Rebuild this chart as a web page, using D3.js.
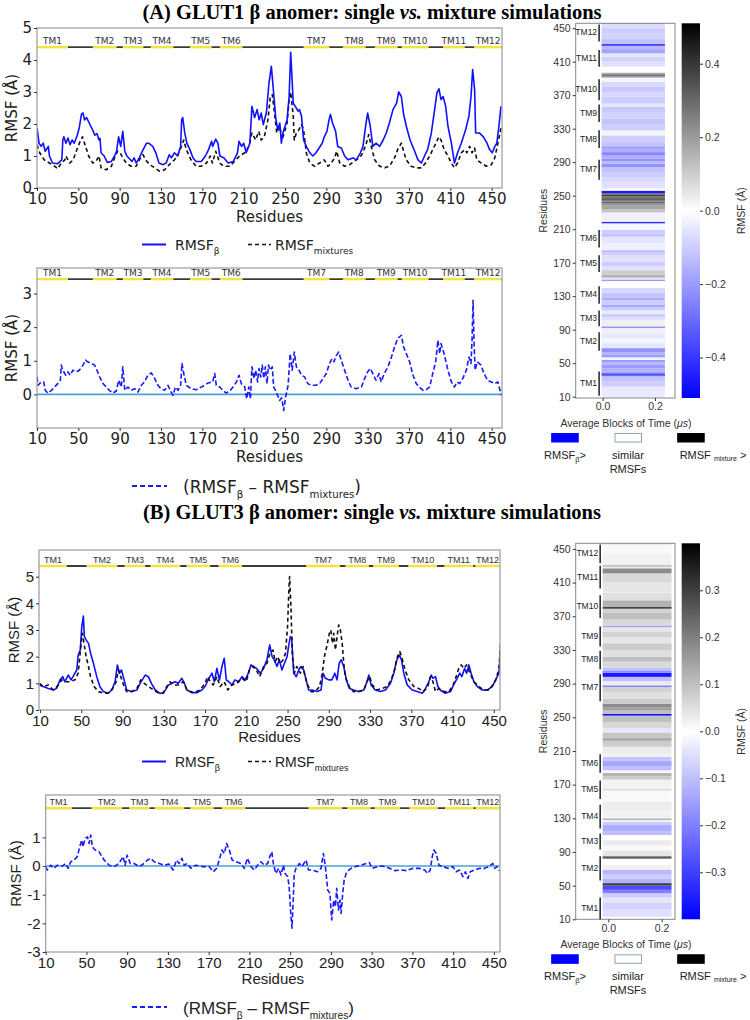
<!DOCTYPE html>
<html>
<head>
<meta charset="utf-8">
<script src="https://cdn.jsdelivr.net/npm/d3@7"></script>
<style>
    body { margin: 0; background: #fff; }
    svg { display: block; }
</style>
</head>
<body>
<svg width="750" height="1020"></svg>
<script>
(function () {
    var svg = d3.select('svg');

    // ---- data ----
    var tmNames = ['TM1', 'TM2', 'TM3', 'TM4', 'TM5', 'TM6', 'TM7', 'TM8', 'TM9', 'TM10', 'TM11', 'TM12'];
    var tmGlut1 = [[10, 40], [64, 87], [93, 113], [120, 142], [158, 179], [187, 209], [268, 293], [306, 328], [337, 359], [363, 389], [403, 424], [433, 460]];
    var tmGlut3 = [[9, 36], [55, 85], [92, 112], [117, 146], [152, 175], [183, 206], [268, 301], [306, 329], [333, 358], [367, 395], [402, 430], [432, 456]];

    var residueTicks = [10, 50, 90, 130, 170, 210, 250, 290, 330, 370, 410, 450];
    var blockTicks = [0.0, 0.2];

    var glut1Beta = [[10,1.88],[12,1.4],[14,1.3],[16,1.4],[18,1.15],[21,1.3],[22,1.0],[25,0.78],[30,0.76],[34,0.88],[35,1.5],[36,1.6],[38,1.4],[40,1.56],[42,1.35],[44,1.5],[46,1.4],[49,1.65],[51,1.9],[53,2.3],[54.5,2.35],[56,2.13],[58,2.2],[61,2.0],[64,1.8],[66,1.65],[68,1.7],[70,1.5],[71,1.55],[72,1.1],[75,1.0],[78,0.8],[82,0.83],[85,1.0],[87,1.15],[89,1.6],[91,1.3],[93,1.77],[95,1.15],[97,1.0],[100,0.9],[102,0.83],[104,0.94],[106,0.78],[109,0.94],[112,1.15],[116,1.4],[118,1.4],[122,1.3],[125,1.1],[128,0.78],[132,0.73],[135,0.78],[138,1.04],[140,0.94],[143,1.1],[146,1.0],[149,1.3],[150,2.13],[151,2.2],[153,1.72],[155,1.4],[158,1.2],[161,0.94],[164,0.83],[169,0.83],[173,1.0],[176,1.2],[179,1.46],[180,1.3],[183,1.53],[185,1.4],[187,1.0],[191,0.94],[195,0.78],[200,0.83],[204,1.1],[205.5,1.46],[208,1.3],[210,1.4],[212.5,1.1],[216,1.4],[218,2.55],[220.6,2.2],[223,2.45],[225,2.13],[227,2.34],[229,1.98],[232,2.36],[234.5,3.28],[236.8,3.8],[239,2.97],[241,2.2],[243,1.82],[245,2.03],[246.5,1.4],[248,1.72],[250,1.93],[252,2.13],[254,2.86],[255.5,4.24],[258,2.65],[260,2.55],[262.6,2.4],[264,2.45],[266,2.24],[268,1.5],[270.6,1.3],[274,1.1],[277,1.0],[280,1.1],[283,1.25],[286,1.4],[288,1.6],[290.6,1.77],[292.6,2.13],[294,2.3],[296,2.03],[299,1.77],[301,1.3],[304.5,1.25],[307.7,1.0],[311,0.88],[315.8,0.94],[319,0.88],[323,1.1],[325.5,1.3],[328,1.93],[330,2.34],[332.5,1.93],[335,1.3],[338,1.4],[341.6,1.3],[345,1.5],[348,1.72],[351,2.03],[354.5,2.45],[358,2.65],[360,3.0],[362.6,2.86],[364.6,2.34],[367.4,1.93],[371,1.5],[375.5,1.15],[378.7,0.88],[382,0.78],[385,1.0],[388,1.2],[391.6,1.72],[394.8,2.45],[397,2.97],[399,3.1],[401,2.76],[403,2.86],[405.5,2.55],[407.7,1.93],[411,1.4],[414,0.78],[417,1.1],[420.6,1.4],[424.8,1.82],[428,2.24],[430,2.86],[431.6,3.7],[433.5,3.07],[434.5,1.72],[438,1.72],[442,1.6],[445.5,1.4],[448,1.2],[450.6,1.1],[453,1.3],[455,1.4],[457,1.93],[459,2.55]];

    var glut1Mix = [[10,1.35],[12.6,1.1],[17,0.88],[22,0.78],[27,0.68],[30,0.6],[33.5,0.78],[37,0.88],[38,1.0],[41.6,0.78],[45,0.88],[48,1.15],[51,1.4],[54,1.6],[57,1.3],[60,1.0],[64,0.78],[67,0.83],[70,1.0],[72,0.63],[77,0.57],[82,0.68],[85,0.94],[88,1.15],[90.6,1.1],[93,0.94],[96.5,0.78],[101,0.68],[106,0.68],[109,0.88],[112.6,1.04],[115,0.88],[119,0.73],[124,0.63],[128.7,0.52],[133.5,0.57],[138,0.73],[143,0.88],[146,1.0],[149.7,1.3],[152,1.5],[154.5,1.2],[159,0.88],[164,0.68],[169,0.68],[174,0.78],[177.7,1.0],[179.7,0.78],[183,1.15],[186.8,0.78],[190.6,0.68],[196.5,0.68],[201,0.83],[206,1.0],[211,1.1],[215,1.3],[218,1.72],[221.6,1.5],[224.6,1.77],[227,1.5],[230,1.6],[233.5,2.13],[235.8,2.86],[237.7,2.92],[240,2.3],[242,1.72],[245,1.93],[247,1.5],[249.7,1.77],[252,2.03],[254,2.76],[255.5,3.0],[258,2.24],[259,1.5],[261,1.72],[263.5,1.82],[266,1.98],[268,1.82],[270.6,1.1],[274,0.78],[278.7,0.68],[283.5,0.78],[288,0.88],[291.6,0.68],[294.8,0.78],[298,0.94],[300,1.15],[303,0.78],[307.7,0.68],[312.6,0.73],[317,0.83],[322,0.94],[325.5,1.1],[328.7,1.4],[331,1.67],[333.5,1.3],[336.8,0.88],[341.6,0.68],[346.5,0.63],[351,0.68],[356,0.94],[359,1.2],[362.6,1.4],[364.8,1.15],[367.4,0.88],[372,0.68],[377,0.63],[382,0.63],[386,0.78],[390,1.0],[393,1.2],[396,1.4],[399,1.6],[401,1.5],[404,1.2],[407.7,1.0],[411,0.78],[414,0.63],[417,0.78],[420.6,1.1],[424,1.2],[426,1.1],[428.7,1.3],[431,1.1],[433.5,1.25],[435.6,0.88],[440,0.78],[444.8,0.68],[449.7,0.73],[453,0.94],[456,1.4],[459.4,1.93]];

    var glut1Diff = [[10,0.52],[11,0.27],[14,0.37],[16.5,0.37],[18,0.12],[20.6,0.04],[24,0.12],[27,0.22],[30,0.32],[32.6,0.42],[33.5,0.87],[35,0.72],[37.7,0.57],[40,0.67],[42,0.57],[44.8,0.72],[48,0.67],[51,0.72],[54.5,0.87],[57,1.02],[59,0.97],[62.6,0.92],[65.8,0.87],[68,0.72],[70.6,0.52],[74,0.32],[77,0.22],[80,0.12],[83.5,0.04],[86.8,0.1],[89,0.42],[91.6,0.22],[93,0.82],[95,0.12],[98,0.22],[101,0.12],[104.5,0.17],[107.7,0.07],[111,0.27],[114,0.37],[117.4,0.57],[120.6,0.64],[124,0.47],[127,0.27],[130,0.17],[133.5,0.12],[136.8,0.27],[139,0.12],[141.6,-0.03],[144,0.22],[146.5,0.12],[149,0.27],[150.3,0.92],[152,0.62],[154.5,0.27],[159,0.17],[164,0.14],[170.6,0.24],[175.5,0.34],[180,0.37],[182,0.62],[183.5,0.27],[186.8,0.22],[190,0.12],[193,0.04],[196.5,0.1],[199.7,0.22],[203,0.37],[205.5,0.57],[207.7,0.32],[211,0.22],[213,-0.13],[215,0.22],[216.5,-0.13],[218,0.82],[220,0.47],[221.6,0.72],[223.5,0.37],[224.8,0.77],[226.5,0.52],[228,0.87],[229.4,0.47],[231,0.82],[232.6,0.32],[234,0.87],[235.8,0.72],[237.7,0.82],[239,0.22],[241.6,0.07],[244.8,-0.18],[246.8,-0.1],[248.7,-0.48],[250.6,-0.08],[253,0.27],[255,1.21],[257,0.72],[259,1.26],[261,0.82],[263.5,0.72],[266,0.57],[269,0.52],[272,0.32],[275.5,0.27],[280,0.27],[283.5,0.32],[286.8,0.47],[290,0.62],[293,0.92],[295.5,1.06],[297.4,0.97],[299.7,1.16],[302,1.26],[304.5,1.01],[307.7,0.72],[311,0.42],[314,0.22],[319,0.17],[324,0.22],[327,0.47],[330,0.67],[332.6,0.77],[335,0.62],[338,0.42],[341,0.62],[343,0.37],[346,0.62],[349.7,0.82],[353,1.11],[356,1.41],[359,1.66],[362.6,1.76],[364.8,1.41],[367.4,1.21],[370.6,0.97],[373.9,0.57],[377,0.32],[380,0.22],[383.5,0.12],[386.8,0.14],[390,0.22],[393,0.62],[395.8,0.97],[398,1.61],[399.7,1.21],[401,1.51],[403.5,1.26],[405.5,1.01],[407.7,0.72],[411,0.37],[414,0.22],[416.5,0.37],[419,0.32],[422,0.47],[425.5,0.72],[428,1.11],[430,0.92],[431,1.6],[432,2.8],[433,1.5],[434,0.72],[436,0.97],[439.7,0.87],[442.6,0.62],[446,0.42],[449.7,0.37],[452.6,0.32],[456,0.37],[459.4,-0.03]];

    var glut3Beta = [[9.4,0.94],[13,0.88],[18,0.81],[23,0.75],[26,0.81],[29.4,1.13],[32,1.25],[34,1.06],[37.5,1.31],[40,1.13],[42,1.25],[45.6,1.5],[47,2.06],[49,2.25],[50.5,3.13],[52,3.52],[53,2.75],[54.7,2.63],[57,2.5],[59,2.13],[61.8,1.75],[65,1.25],[68,0.88],[71.5,0.69],[76,0.63],[79.6,0.75],[82.8,1.06],[85,1.69],[87,1.38],[89,1.5],[91.5,1.13],[94,0.75],[99,0.69],[104,0.75],[107,1.0],[112,1.31],[115,1.25],[118,1.0],[121.7,0.75],[126,0.63],[129.7,0.63],[134.6,0.94],[138,1.0],[141,1.06],[144,1.0],[147.5,1.19],[150,1.0],[152.4,0.75],[157,0.65],[162,0.65],[167,0.75],[170,0.88],[173,1.13],[176.7,1.38],[179,1.06],[181.5,1.56],[184,1.13],[186.4,1.63],[188.6,1.94],[190.6,1.13],[193,1.06],[196,0.94],[199,1.13],[202.6,1.06],[205.8,1.25],[209,1.13],[212,1.38],[214.5,1.69],[217,1.63],[220,1.56],[223.6,1.38],[226.8,1.56],[230,1.88],[232.7,2.44],[235,2.0],[237,1.88],[239.8,1.63],[242,1.88],[244.6,1.5],[247,1.75],[249.5,2.0],[251,2.38],[252.7,2.75],[254,2.69],[256,1.38],[258.5,1.25],[260.8,1.5],[263,1.63],[265.7,1.5],[268,1.13],[270.5,0.75],[273.7,0.75],[278.6,0.69],[282.5,0.75],[284.4,1.38],[286.7,1.19],[290,1.13],[293,1.13],[295.8,1.38],[298,1.13],[300,1.75],[302,1.88],[304.5,1.63],[307,1.13],[310,0.81],[314,0.75],[319,0.69],[324,0.75],[327,1.06],[328.8,1.31],[331,0.94],[335,0.75],[340,0.69],[345,0.75],[349.8,1.0],[353,1.38],[356,1.88],[358.5,2.06],[360.5,1.88],[362.7,1.38],[366,0.94],[370.8,0.75],[375.7,0.69],[380.6,0.63],[383.8,0.81],[387,1.06],[389.3,1.31],[391,1.19],[393.5,1.25],[395.7,0.88],[398,0.75],[403,0.63],[408,0.69],[411,0.94],[414.5,1.19],[417,1.38],[419,1.25],[421.6,1.56],[423.6,1.38],[425.8,1.69],[428,1.38],[430.7,1.06],[434,0.88],[438.8,0.75],[443.7,0.75],[448.5,0.88],[451.7,1.13],[455,1.38],[456.6,2.38]];

    var glut3Mix = [[9.4,1.0],[13,0.88],[18,0.94],[23,0.75],[28,0.94],[31,1.13],[34,1.06],[39,1.06],[44,1.13],[47,1.38],[49.5,2.38],[51,2.88],[52.7,2.5],[54.7,2.0],[57,1.63],[59,1.25],[62.4,0.88],[66.6,0.69],[71.5,0.63],[76,0.63],[80.6,0.81],[83.8,1.06],[86,1.5],[88.3,1.25],[91,0.94],[94,0.69],[99,0.69],[104,0.81],[107.7,1.13],[111,1.0],[115,0.88],[120,0.75],[125,0.63],[129,0.63],[133,0.88],[136,1.06],[139.4,0.94],[144,0.94],[149,1.06],[152.4,0.75],[159,0.65],[165,0.75],[170,1.0],[172.4,1.25],[175,1.06],[178,0.94],[181.5,1.25],[184.7,0.88],[188.6,1.06],[192,0.75],[196,0.94],[201,1.0],[205.8,1.19],[210,1.06],[213,1.5],[216.5,1.63],[219.7,1.5],[223,1.25],[226.8,1.63],[230,1.75],[233,2.13],[235.9,2.25],[238,1.81],[240.4,2.0],[243,1.75],[245.6,1.88],[248,2.13],[250,3.13],[251.4,4.63],[252,5.0],[253.4,3.75],[254.7,2.0],[256.6,1.38],[259,1.63],[262.4,1.38],[265,1.63],[267,1.25],[269.5,0.94],[272.8,0.69],[277,0.69],[281,0.88],[283.4,1.31],[285.7,2.0],[288,2.38],[290.6,2.88],[292,3.0],[293.5,2.5],[294.8,2.88],[296.4,2.25],[298,2.75],[299.6,3.19],[301,3.06],[303,2.5],[304.5,1.75],[306,1.25],[309.7,0.88],[314,0.69],[319,0.69],[324,0.75],[327,1.06],[329.7,1.25],[332,0.94],[337,0.75],[341.7,0.81],[346.6,0.88],[350.5,1.13],[353.7,1.5],[356,1.94],[358.8,2.19],[361,1.94],[364,1.5],[367.6,1.13],[372.5,0.88],[377,0.81],[382,0.69],[386,0.88],[388.6,1.25],[391,1.06],[393.5,0.69],[396.7,0.81],[401.6,0.69],[406.5,0.69],[410.6,0.94],[414,1.31],[416,1.56],[418.4,1.69],[421,1.56],[423.6,1.69],[426.8,1.38],[430.7,1.06],[435.6,0.88],[440,0.75],[445,0.75],[449,0.94],[452,1.13],[455,1.56],[456.6,2.5]];

    var glut3Diff = [[10,-0.02],[11.6,-0.14],[15,0.03],[18,-0.08],[21.5,0.03],[26.4,0],[29.7,0.09],[32,-0.08],[34.6,0.15],[37.8,0.21],[41,0.33],[43.4,0.67],[45.4,0.91],[46.7,0.67],[48.7,0.97],[51,1.02],[52.6,0.79],[54.2,1.08],[55.9,0.67],[58.5,0.56],[62.4,0.5],[67.3,0.21],[72.3,0.03],[77,-0.02],[82,0.09],[86,0.33],[88,0.03],[90,0.38],[93,0.09],[96.8,0.09],[101.7,-0.02],[106.7,0.09],[110,0.21],[113,0.27],[116.5,0.15],[121.4,0.09],[126.3,0.03],[131,0.07],[135,-0.14],[138.4,0.21],[141,0.09],[143.7,0.27],[146,0.03],[149,0.09],[152.5,-0.08],[157.4,0.03],[164,-0.02],[170.5,-0.02],[174.5,-0.2],[177.8,-0.08],[180.4,0.21],[183,0.56],[185.4,0.44],[187.6,0.79],[190.3,0.56],[193,0.21],[196.8,0.15],[201.7,0.09],[205,-0.08],[208,0.27],[211.5,-0.02],[214.8,-0.14],[218,0.03],[221.3,0.15],[224.6,0.03],[227.9,0.09],[230,0.33],[232,0.5],[233.5,0.09],[236,-0.26],[238.7,-0.08],[241,-0.31],[243.3,0.03],[245,-0.26],[247.6,-0.37],[249,-0.72],[250.8,-1.77],[251.8,-2.17],[253,-1.19],[254,-0.26],[255.7,-0.08],[259,0.09],[261.6,-0.02],[265.6,0.21],[268,-0.14],[272,-0.14],[277,-0.2],[280.3,-0.08],[282.6,0.44],[284.6,-0.02],[286.9,-0.84],[289,-0.95],[290.8,-1.88],[292.8,-1.19],[294.4,-1.42],[295.7,-0.78],[297.4,-1.53],[299,-1.19],[300,-1.65],[301.6,-0.95],[303,-0.49],[305.5,-0.2],[309.8,-0.08],[314,-0.02],[319.6,0.03],[324.5,0.09],[327.8,0.12],[330.4,-0.08],[336,-0.02],[341,0],[347.5,-0.08],[352.4,-0.16],[359,-0.14],[364,-0.16],[370.6,-0.08],[377,-0.08],[382,-0.14],[385,-0.26],[387.5,-0.14],[389.5,0.33],[391,0.56],[393.4,0.44],[396,0.03],[400,-0.02],[404.8,-0.08],[409.7,-0.02],[413,-0.2],[416.3,-0.14],[419.6,-0.37],[422,-0.2],[424.5,-0.43],[426.8,-0.2],[431,-0.14],[436,-0.08],[441,-0.08],[445,-0.02],[449,0.09],[450.7,-0.08],[453,-0.02],[455,-0.16]];

    // heatmap rows: [first residue, last residue, RMSF difference]
    var heatGlut1 = [[8,22,-0.04],[22,28,-0.1],[28,34,-0.12],[34,35,-0.2],[35,38,-0.36],[38,40,-0.2],[40,44,-0.16],[44,48,-0.2],[48,51,-0.15],[51,54,-0.2],[54,57,-0.02],[57,60,-0.2],[60,63,-0.16],[63,68,-0.22],[68,74,-0.05],[74,80,-0.02],[80,85,-0.05],[85,92,-0.03],[92,94,-0.22],[94,101,0.03],[101,105,-0.06],[105,109,-0.1],[109,113,-0.04],[113,117,-0.1],[117,120,-0.18],[120,125,-0.1],[125,128,-0.16],[128,134,-0.12],[134,140,-0.08],[140,148,0.0],[148,150,-0.2],[150,152,-0.04],[152,156,0.15],[156,161,0.1],[161,166,-0.06],[166,171,-0.1],[171,179,-0.06],[179,182,-0.1],[182,185,-0.13],[185,193,-0.03],[193,201,-0.05],[201,205,-0.12],[205,209,-0.1],[209,217,-0.02],[217,219,-0.42],[219,221,-0.02],[221,230,-0.03],[230,234,0.12],[234,238,0.18],[238,241,0.22],[241,243,0.32],[243,245,0.26],[245,247,0.36],[247,249,0.28],[249,251,0.38],[251,253,0.3],[253,256,-0.46],[256,259,-0.01],[259,266,-0.06],[266,272,-0.08],[272,278,-0.1],[278,284,-0.12],[284,288,-0.22],[288,291,-0.14],[291,294,-0.22],[294,298,-0.16],[298,302,-0.24],[302,306,-0.16],[306,309,-0.2],[309,314,-0.12],[314,322,-0.1],[322,328,0.02],[328,335,-0.1],[335,342,-0.12],[342,349,-0.09],[349,356,-0.11],[356,360,-0.05],[360,368,-0.1],[368,374,-0.08],[374,380,-0.11],[380,386,-0.08],[386,391,-0.02],[391,393,0.2],[393,395,0.3],[395,397,0.18],[397,400,-0.01],[400,404,0.0],[404,410,-0.06],[410,416,-0.09],[416,420,-0.05],[420,425,-0.18],[425,429,-0.14],[429,431,-0.42],[431,437,-0.12],[437,444,-0.09],[444,450,-0.1],[450,455,-0.07],[455,456,0.2]];

    var heatGlut3 = [[10,13,0.0],[13,22,-0.05],[22,30,-0.07],[30,36,-0.04],[36,41,-0.08],[41,45,-0.2],[45,50,-0.28],[50,53,0.3],[53,58,-0.12],[58,63,-0.08],[63,69,-0.11],[69,75,0.02],[75,82,0.0],[82,85,0.25],[85,92,0.04],[92,98,0.01],[98,104,0.03],[104,110,0.0],[110,115,-0.1],[115,122,-0.13],[122,126,-0.08],[126,128,0.02],[128,130,0.12],[130,140,0.02],[140,150,0.03],[150,163,0.01],[163,165,0.06],[165,176,0.02],[176,180,0.08],[180,184,0.12],[184,187,0.01],[187,192,-0.1],[192,198,-0.14],[198,203,-0.09],[203,207,0.02],[207,215,0.03],[215,222,0.08],[222,226,0.13],[226,232,0.09],[232,237,-0.04],[237,244,0.06],[244,252,0.1],[252,254,-0.38],[254,258,0.1],[258,262,0.15],[262,266,0.18],[266,272,0.08],[272,280,0.05],[280,286,0.07],[286,288,-0.2],[288,293,0.03],[293,298,-0.1],[298,303,-0.36],[303,305,-0.18],[305,309,-0.1],[309,316,0.06],[316,322,0.1],[322,330,0.05],[330,338,0.08],[338,345,0.04],[345,352,0.07],[352,357,0.04],[357,359,-0.15],[359,366,0.06],[366,374,0.1],[374,379,0.07],[379,381,0.3],[381,389,0.12],[389,398,0.05],[398,400,-0.04],[400,410,0.04],[410,421,0.06],[421,427,0.18],[427,429,0.04],[429,431,0.1],[431,445,0.02],[445,455,0.01],[455,457,-0.05]];

    var dejavu = '"DejaVu Sans", sans-serif';
    var arial = '"Liberation Sans", Arial, sans-serif';

    // ---- titles ----
    title(372, 19, '(A) GLUT1 β anomer: single ');
    title(372, 519, '(B) GLUT3 β anomer: single ');

    // ---- GLUT1 ----
    linePanel({
        id: 'a1', left: 37, right: 502, top: 28, bottom: 188,
        xDomain: [10, 460], yDomain: [0, 5], yTicks: [0, 1, 2, 3, 4, 5],
        tm: tmGlut1, tmLevel: 4.4, font: dejavu, tickSize: 15, labelSize: 15,
        xLabelY: 222, yLabelX: 12,
        series: [
            { data: glut1Mix, color: '#111', dash: '4,3' },
            { data: glut1Beta, color: '#1010ff' }
        ]
    });
    pairLegend(244.5, 250, dejavu, 14);

    linePanel({
        id: 'a2', left: 37, right: 502, top: 268, bottom: 428,
        xDomain: [10, 460], yDomain: [-1, 3.76], yTicks: [0, 1, 2, 3],
        tm: tmGlut1, tmLevel: 3.43, font: dejavu, tickSize: 15, labelSize: 15,
        xLabelY: 462, yLabelX: 12, zero: true,
        series: [{ data: glut1Diff, color: '#1a1aff', dash: '5,2.5' }]
    });
    diffLegend(486, 493, dejavu, 17);

    heatPanel({
        left: 575.7, right: 675, top: 23.3, bottom: 398,
        xDomain: [-0.103, 0.2765], yDomain: [8.45, 455.8], img: [-0.004, 0.238],
        bands: heatGlut1, tm: tmGlut1, vmin: -0.51, vmax: 0.51,
        cbTicks: [-0.4, -0.2, 0.0, 0.2, 0.4]
    });

    // ---- GLUT3 ----
    linePanel({
        id: 'b1', left: 39, right: 500, top: 550, bottom: 710,
        xDomain: [9, 456], yDomain: [0, 6], yTicks: [0, 1, 2, 3, 4, 5],
        tm: tmGlut3, tmLevel: 5.4, font: arial, tickSize: 15, labelSize: 15,
        xLabelY: 742, yLabelX: 14,
        series: [
            { data: glut3Beta, color: '#1010ff' },
            { data: glut3Mix, color: '#111', dash: '4,3' }
        ]
    });
    pairLegend(761.5, 767, arial, 14);

    linePanel({
        id: 'b2', left: 45.7, right: 500, top: 795, bottom: 952,
        xDomain: [10, 456], yDomain: [-3, 2.48], yTicks: [-3, -2, -1, 0, 1],
        tm: tmGlut3, tmLevel: 2.02, font: arial, tickSize: 15, labelSize: 15,
        xLabelY: 984, yLabelX: 16, zero: true,
        series: [{ data: glut3Diff, color: '#1a1aff', dash: '5,2.5' }]
    });
    diffLegend(1007, 1014, arial, 17);

    heatPanel({
        left: 575.7, right: 675, top: 543.3, bottom: 919.3,
        xDomain: [-0.122, 0.25], yDomain: [10, 456.7], img: [-0.021, 0.237],
        bands: heatGlut3, tm: tmGlut3, vmin: -0.4, vmax: 0.4,
        cbTicks: [-0.3, -0.2, -0.1, 0.0, 0.1, 0.2, 0.3]
    });

    function title(x, y, head) {
        var t = svg.append('text')
            .attr('x', x).attr('y', y)
            .attr('text-anchor', 'middle')
            .attr('font-family', '"Liberation Serif", "Times New Roman", serif')
            .attr('font-weight', 'bold')
            .attr('font-size', 20.5)
            .attr('fill', '#000');
        t.append('tspan').text(head);
        t.append('tspan').attr('font-style', 'italic').text('vs.');
        t.append('tspan').text(' mixture simulations');
    }

    // text made of pieces, some of them subscripts
    function richText(x, y, parts, o) {
        var t = svg.append('text')
            .attr('x', x).attr('y', y)
            .attr('font-family', o.family)
            .attr('font-size', o.size)
            .attr('text-anchor', o.anchor || 'start')
            .attr('fill', o.fill || '#222');
        var shift = 0;
        parts.forEach(function (p) {
            var s = t.append('tspan').text(p[0]);
            var want = p[1] ? p[1] : 0;
            if (want !== shift) {
                s.attr('dy', want - shift);
                shift = want;
            }
            if (p[2]) {
                s.attr('font-size', p[2]);
            }
        });
        return t;
    }

    function pairLegend(lineY, textY, family, size) {
        svg.append('line')
            .attr('x1', 142).attr('x2', 166).attr('y1', lineY).attr('y2', lineY)
            .attr('stroke', '#1010ff').attr('stroke-width', 2);
        richText(175, textY, [['RMSF'], ['β', 4, size * 0.65]], { family: family, size: size });
        svg.append('line')
            .attr('x1', 248).attr('x2', 271).attr('y1', lineY).attr('y2', lineY)
            .attr('stroke', '#111').attr('stroke-width', 1.6).attr('stroke-dasharray', '4,3');
        richText(275, textY, [['RMSF'], ['mixtures', 4, size * 0.64]], { family: family, size: size });
    }

    function diffLegend(lineY, textY, family, size) {
        svg.append('line')
            .attr('x1', 132).attr('x2', 167).attr('y1', lineY).attr('y2', lineY)
            .attr('stroke', '#1a1aff').attr('stroke-width', 1.8).attr('stroke-dasharray', '5,3');
        richText(183, textY, [
            ['(RMSF'], ['β', 5, size * 0.6], [' –  RMSF', 0], ['mixtures', 5, size * 0.6], [')', 0]
        ], { family: family, size: size });
    }

    function linePanel(p) {
        var x = d3.scaleLinear().domain(p.xDomain).range([p.left, p.right]);
        var y = d3.scaleLinear().domain(p.yDomain).range([p.bottom, p.top]);
        var g = svg.append('g');

        g.append('clipPath').attr('id', 'clip-' + p.id)
            .append('rect')
            .attr('x', p.left).attr('y', p.top)
            .attr('width', p.right - p.left).attr('height', p.bottom - p.top);
        var body = g.append('g').attr('clip-path', 'url(#clip-' + p.id + ')');

        if (p.zero) {
            body.append('line')
                .attr('x1', p.left).attr('x2', p.right)
                .attr('y1', y(0)).attr('y2', y(0))
                .attr('stroke', '#4a9fd6').attr('stroke-width', 1.6);
        }

        // transmembrane helix bar
        var barY = y(p.tmLevel);
        body.append('line')
            .attr('x1', p.left).attr('x2', p.right)
            .attr('y1', barY).attr('y2', barY)
            .attr('stroke', '#3a3a3a').attr('stroke-width', 1.8);
        body.selectAll('line.tm')
            .data(p.tm)
            .enter()
            .append('line')
            .attr('class', 'tm')
            .attr('x1', function (d) { return x(d[0]); })
            .attr('x2', function (d) { return x(d[1]); })
            .attr('y1', barY).attr('y2', barY)
            .attr('stroke', '#f3e33b').attr('stroke-width', 2.4);
        body.selectAll('text.tm')
            .data(p.tm)
            .enter()
            .append('text')
            .attr('class', 'tm')
            .attr('x', function (d) { return x((d[0] + Math.min(d[1], p.xDomain[1])) / 2); })
            .attr('y', barY - 3)
            .attr('text-anchor', 'middle')
            .attr('font-family', p.font)
            .attr('font-size', 9)
            .attr('fill', '#333')
            .text(function (d, i) { return tmNames[i]; });

        var line = d3.line()
            .x(function (d) { return x(d[0]); })
            .y(function (d) { return y(d[1]); });

        p.series.forEach(function (s) {
            body.append('path')
                .datum(s.data)
                .attr('d', line)
                .attr('fill', 'none')
                .attr('stroke', s.color)
                .attr('stroke-width', 1.6)
                .attr('stroke-linejoin', 'round')
                .attr('stroke-dasharray', s.dash || null);
        });

        g.append('rect')
            .attr('x', p.left).attr('y', p.top)
            .attr('width', p.right - p.left).attr('height', p.bottom - p.top)
            .attr('fill', 'none').attr('stroke', '#9a9a9a').attr('stroke-width', 1.2);

        var xa = g.append('g')
            .attr('transform', 'translate(0,' + p.bottom + ')')
            .call(d3.axisBottom(x).tickValues(residueTicks).tickSize(3).tickPadding(2));
        var ya = g.append('g')
            .attr('transform', 'translate(' + p.left + ',0)')
            .call(d3.axisLeft(y).tickValues(p.yTicks).tickSize(3).tickPadding(2)
                .tickFormat(function (d) { return String(d); }));
        [xa, ya].forEach(function (a) {
            a.select('.domain').remove();
            a.attr('font-family', p.font).attr('font-size', p.tickSize);
            a.selectAll('text').attr('fill', '#222');
            a.selectAll('line').attr('stroke', '#333');
        });

        g.append('text')
            .attr('x', (p.left + p.right) / 2).attr('y', p.xLabelY)
            .attr('text-anchor', 'middle')
            .attr('font-family', p.font).attr('font-size', p.labelSize)
            .attr('fill', '#222')
            .text('Residues');
        g.append('text')
            .attr('transform', 'translate(' + (p.yLabelX + 5) + ',' + ((p.top + p.bottom) / 2) + ') rotate(-90)')
            .attr('text-anchor', 'middle')
            .attr('font-family', p.font).attr('font-size', p.labelSize)
            .attr('fill', '#222')
            .text('RMSF (Å)');
    }

    function heatPanel(p) {
        var x = d3.scaleLinear().domain(p.xDomain).range([p.left, p.right]);
        var y = d3.scaleLinear().domain(p.yDomain).range([p.bottom, p.top]);
        var color = d3.scaleLinear()
            .domain([p.vmin, 0, p.vmax])
            .range(['#0000ff', '#ffffff', '#000000']);
        var g = svg.append('g');
        var fs = 10.5;

        g.selectAll('rect.band')
            .data(p.bands)
            .enter()
            .append('rect')
            .attr('class', 'band')
            .attr('x', x(p.img[0]))
            .attr('width', x(p.img[1]) - x(p.img[0]))
            .attr('y', function (d) { return y(Math.min(d[1], p.yDomain[1])); })
            .attr('height', function (d) {
                return y(Math.max(d[0], p.yDomain[0])) - y(Math.min(d[1], p.yDomain[1]));
            })
            .attr('fill', function (d) { return color(d[2]); });

        g.append('rect')
            .attr('x', p.left).attr('y', p.top)
            .attr('width', p.right - p.left).attr('height', p.bottom - p.top)
            .attr('fill', 'none').attr('stroke', '#888').attr('stroke-width', 1);

        // helix markers
        var tmX = x(p.img[0]) - 2.5;
        g.selectAll('line.tm')
            .data(p.tm)
            .enter()
            .append('line')
            .attr('x1', tmX).attr('x2', tmX)
            .attr('y1', function (d) { return y(Math.min(d[1], p.yDomain[1] - 1.5)); })
            .attr('y2', function (d) { return y(d[0] + 1); })
            .attr('stroke', '#111').attr('stroke-width', 1.4);
        g.selectAll('text.tm')
            .data(p.tm)
            .enter()
            .append('text')
            .attr('x', tmX - 2)
            .attr('y', function (d) { return y((d[0] + Math.min(d[1], p.yDomain[1])) / 2) + 2; })
            .attr('text-anchor', 'end')
            .attr('font-family', arial)
            .attr('font-size', 8.5)
            .attr('fill', '#222')
            .text(function (d, i) { return tmNames[i]; });

        var ya = g.append('g')
            .attr('transform', 'translate(' + p.left + ',0)')
            .call(d3.axisLeft(y).tickValues(residueTicks).tickSize(3).tickPadding(2));
        var xa = g.append('g')
            .attr('transform', 'translate(0,' + p.bottom + ')')
            .call(d3.axisBottom(x).tickValues(blockTicks).tickSize(3).tickPadding(2).tickFormat(d3.format('.1f')));
        [xa, ya].forEach(function (a) {
            a.select('.domain').remove();
            a.attr('font-family', arial).attr('font-size', fs);
            a.selectAll('text').attr('fill', '#333');
            a.selectAll('line').attr('stroke', '#333');
        });

        g.append('text')
            .attr('transform', 'translate(547,' + ((p.top + p.bottom) / 2) + ') rotate(-90)')
            .attr('text-anchor', 'middle')
            .attr('font-family', arial).attr('font-size', fs).attr('fill', '#333')
            .text('Residues');

        var xl = g.append('text')
            .attr('x', 626).attr('y', p.bottom + 29)
            .attr('text-anchor', 'middle')
            .attr('font-family', arial).attr('font-size', fs).attr('fill', '#333');
        xl.append('tspan').text('Average Blocks of Time (');
        xl.append('tspan').attr('font-style', 'italic').text('μs');
        xl.append('tspan').text(')');

        // colour bar
        var cbLeft = 681.7, cbRight = 700;
        var cy = d3.scaleLinear().domain([p.vmin, p.vmax]).range([p.bottom, p.top]);
        var gid = 'grad' + Math.round(p.top);
        var grad = svg.append('defs').append('linearGradient')
            .attr('id', gid)
            .attr('x1', 0).attr('y1', 1).attr('x2', 0).attr('y2', 0);
        color.domain().forEach(function (v) {
            grad.append('stop')
                .attr('offset', (v - p.vmin) / (p.vmax - p.vmin))
                .attr('stop-color', color(v));
        });
        g.append('rect')
            .attr('x', cbLeft).attr('y', p.top)
            .attr('width', cbRight - cbLeft).attr('height', p.bottom - p.top)
            .attr('fill', 'url(#' + gid + ')');
        var ca = g.append('g')
            .attr('transform', 'translate(' + cbRight + ',0)')
            .call(d3.axisRight(cy).tickValues(p.cbTicks).tickSize(3).tickPadding(2)
                .tickFormat(function (d) { return d3.format('.1f')(d).replace('-', '−'); }));
        ca.select('.domain').remove();
        ca.attr('font-family', arial).attr('font-size', fs);
        ca.selectAll('text').attr('fill', '#333');
        ca.selectAll('line').attr('stroke', '#333');

        g.append('text')
            .attr('transform', 'translate(745,' + ((p.top + p.bottom) / 2) + ') rotate(-90)')
            .attr('text-anchor', 'middle')
            .attr('font-family', arial).attr('font-size', fs).attr('fill', '#333')
            .text('RMSF (Å)');

        // colour key under the heatmap
        var ky = p.bottom + 35.5;
        var keys = [
            { x: 551.7, fill: '#0000ff', stroke: '#0000ff' },
            { x: 615, fill: '#ffffff', stroke: '#8fa6a6' },
            { x: 677.7, fill: '#000000', stroke: '#000000' }
        ];
        g.selectAll('rect.key')
            .data(keys)
            .enter()
            .append('rect')
            .attr('x', function (d) { return d.x; })
            .attr('y', ky)
            .attr('width', 26.5).attr('height', 8.5)
            .attr('fill', function (d) { return d.fill; })
            .attr('stroke', function (d) { return d.stroke; })
            .attr('stroke-width', 1);

        var ty = p.bottom + 61;
        richText(565, ty, [['RMSF'], ['β', 3, 7.5], ['>', 0]], { family: arial, size: 11, anchor: 'middle', fill: '#222' });
        richText(628, ty, [['similar']], { family: arial, size: 11, anchor: 'middle', fill: '#222' });
        richText(628, ty + 14, [['RMSFs']], { family: arial, size: 11, anchor: 'middle', fill: '#222' });
        richText(713, ty, [['RMSF '], ['mixture', 2, 7], [' >', 0]], { family: arial, size: 11, anchor: 'middle', fill: '#222' });
    }
}());
</script>
</body>
</html>
